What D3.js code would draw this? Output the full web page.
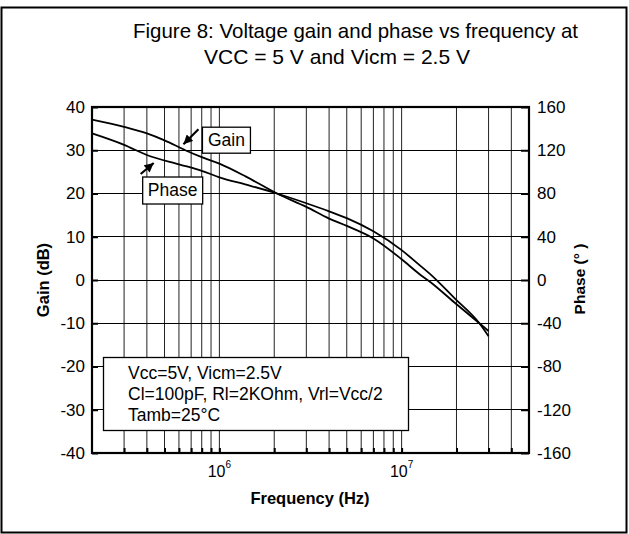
<!DOCTYPE html>
<html>
<head>
<meta charset="utf-8">
<script src="https://cdn.jsdelivr.net/npm/d3@7"></script>
<style>
  html, body { margin: 0; padding: 0; background: #fff; }
  svg { display: block; font-family: Arial, "Liberation Sans", Helvetica, sans-serif; }
</style>
</head>
<body>
<svg id="chart" width="629" height="534"></svg>
<script>
// ---- Data ----
const titleLines = ["Figure 8: Voltage gain and phase vs frequency at", "VCC = 5 V and Vicm = 2.5 V"];
const gainFreq = [2e5, 3e5, 4e5, 5e5, 6.5e5, 8e5, 1e6, 1.4e6, 2.07e6, 3e6, 4e6, 5e6, 7e6, 1e7, 1.25e7, 1.43e7, 1.95e7, 2.67e7, 3e7];
const gainDb   = [37.1, 35.4, 33.9, 32.3, 30.0, 28.4, 26.9, 23.9, 20.0, 16.9, 14.2, 12.5, 9.6, 4.8, 1.4, -0.4, -5.2, -10.0, -11.8];
const phaseFreq = [2e5, 3e5, 4e5, 6e5, 8e5, 1e6, 1.42e6, 2.07e6, 3e6, 4e6, 5e6, 7e6, 1e7, 1.25e7, 1.43e7, 1.95e7, 2.67e7, 3e7];
const phaseDeg  = [135.6, 125, 115.6, 107, 101, 95, 88, 80, 71, 63.5, 57.2, 45, 27.6, 14, 5.6, -16.8, -40, -52];
const gainTicks  = [-40, -30, -20, -10, 0, 10, 20, 30, 40];
const phaseTicks = [-160, -120, -80, -40, 0, 40, 80, 120, 160];
const decadeTicks = [1e6, 1e7];
const boxLines = ["Vcc=5V, Vicm=2.5V", "Cl=100pF, Rl=2KOhm, Vrl=Vcc/2", "Tamb=25°C"];
const gainLabel = {text: "Gain", f: 6.35e5, v: 31.4};
const phaseLabel = {text: "Phase", f: 4.36e5, v: 27.05};

// ---- Layout ----
const L = 92, R = 529, T = 107, B = 453;
const svg = d3.select("#chart");

const x = d3.scaleLog().domain([2e5, 5e7]).range([L, R]);
const y = d3.scaleLinear().domain([-40, 40]).range([B, T]);
const yP = d3.scaleLinear().domain([-160, 160]).range([B, T]);

// outer frame
svg.append("rect").attr("x", 1.5).attr("y", 7.5).attr("width", 625).attr("height", 525)
  .attr("fill", "none").attr("stroke", "#000").attr("stroke-width", 2);

// title
const titlePos = [{x: 133, w: 445}, {x: 204, w: 266}];
svg.selectAll("text.title").data(titleLines).enter().append("text")
  .attr("class", "title")
  .attr("x", (d, i) => titlePos[i].x).attr("y", (d, i) => 38 + i * 26)
  .attr("font-size", 21)
  .attr("textLength", (d, i) => titlePos[i].w).attr("lengthAdjust", "spacingAndGlyphs")
  .text(d => d);

// vertical grid
const minor = x.ticks().filter(v => v > 2.0001e5 && v < 4.9999e7);
svg.append("g").selectAll("line").data(minor).enter().append("line")
  .attr("x1", d => x(d)).attr("x2", d => x(d))
  .attr("y1", T).attr("y2", B)
  .attr("stroke", "#222").attr("stroke-width", 1);

// horizontal grid
svg.append("g").selectAll("line").data(gainTicks.slice(1, -1)).enter().append("line")
  .attr("x1", L).attr("x2", R)
  .attr("y1", d => y(d)).attr("y2", d => y(d))
  .attr("stroke", "#000").attr("stroke-width", 1)
  .attr("shape-rendering", "crispEdges");

// left axis
const gl = svg.append("g").attr("transform", `translate(${L},0)`)
  .call(d3.axisLeft(y).tickValues(gainTicks).tickFormat(d => String(d))
    .tickSizeInner(-6).tickSizeOuter(0).tickPadding(7));
// right axis
const gr = svg.append("g").attr("transform", `translate(${R},0)`)
  .call(d3.axisRight(yP).tickValues(phaseTicks).tickFormat(d => String(d))
    .tickSizeInner(-8).tickSizeOuter(0).tickPadding(8));
// bottom ticks
const gb = svg.append("g").attr("transform", `translate(0,${B})`)
  .call(d3.axisBottom(x).tickValues(minor).tickFormat("").tickSizeInner(-5).tickSizeOuter(0));
[gl, gr, gb].forEach(g => {
  g.select(".domain").remove();
  g.selectAll(".tick line").attr("stroke", "#000").attr("stroke-width", 2);
  g.selectAll("text").attr("font-size", 17).attr("fill", "#000")
    .attr("font-family", "Arial, 'Liberation Sans', sans-serif");
});

// decade labels
const dl = svg.append("g").selectAll("text").data(decadeTicks).enter().append("text")
  .attr("x", d => x(d)).attr("y", 477).attr("text-anchor", "middle").attr("font-size", 16);
dl.append("tspan").text("10");
dl.append("tspan").attr("font-size", 10).attr("dy", -9).text(d => Math.round(Math.log10(d)));

// plot border
svg.append("rect").attr("x", L).attr("y", T).attr("width", R - L).attr("height", B - T)
  .attr("fill", "none").attr("stroke", "#000").attr("stroke-width", 2.2);

// curves
const lineG = d3.line().x(d => x(d[0])).y(d => y(d[1])).curve(d3.curveMonotoneX);
const lineP = d3.line().x(d => x(d[0])).y(d => yP(d[1])).curve(d3.curveMonotoneX);
svg.append("path").datum(gainFreq.map((f, i) => [f, gainDb[i]]))
  .attr("d", lineG).attr("fill", "none").attr("stroke", "#000").attr("stroke-width", 1.8);
svg.append("path").datum(phaseFreq.map((f, i) => [f, phaseDeg[i]]))
  .attr("d", lineP).attr("fill", "none").attr("stroke", "#000").attr("stroke-width", 1.8);

// arrow marker
svg.append("defs").append("marker").attr("id", "ah")
  .attr("viewBox", "0 0 10 10").attr("refX", 10).attr("refY", 5)
  .attr("markerWidth", 4.4).attr("markerHeight", 4.2).attr("markerUnits", "strokeWidth")
  .attr("orient", "auto")
  .append("path").attr("d", "M0,0 L10,5 L0,10 z").attr("fill", "#000");

// Gain label + arrow
{
  const tx = x(gainLabel.f), ty = y(gainLabel.v);
  svg.append("line").attr("x1", tx + 15).attr("y1", ty - 15).attr("x2", tx).attr("y2", ty)
    .attr("stroke", "#000").attr("stroke-width", 2.2).attr("marker-end", "url(#ah)");
  svg.append("rect").attr("x", tx + 19).attr("y", ty - 17).attr("width", 48).attr("height", 26)
    .attr("fill", "#fff").attr("stroke", "#000").attr("stroke-width", 1.3);
  svg.append("text").attr("x", tx + 43).attr("y", ty + 2).attr("text-anchor", "middle")
    .attr("font-size", 17.5).text(gainLabel.text);
}
// Phase label + arrow
{
  const tx = x(phaseLabel.f), ty = y(phaseLabel.v);
  svg.append("line").attr("x1", tx - 13).attr("y1", ty + 11).attr("x2", tx).attr("y2", ty)
    .attr("stroke", "#000").attr("stroke-width", 2.2).attr("marker-end", "url(#ah)");
  svg.append("rect").attr("x", tx - 11).attr("y", ty + 14).attr("width", 60).attr("height", 27)
    .attr("fill", "#fff").attr("stroke", "#000").attr("stroke-width", 1.3);
  svg.append("text").attr("x", tx + 19).attr("y", ty + 33).attr("text-anchor", "middle")
    .attr("font-size", 17.5).text(phaseLabel.text);
}

// conditions box
svg.append("rect").attr("x", 103.5).attr("y", 357.5).attr("width", 305).attr("height", 73)
  .attr("fill", "#fff").attr("stroke", "#000").attr("stroke-width", 1.3);
svg.selectAll("text.cond").data(boxLines).enter().append("text")
  .attr("class", "cond").attr("x", 128).attr("y", (d, i) => 379 + i * 21)
  .attr("font-size", 17.5).text(d => d);

// axis titles
svg.append("text").attr("x", 310).attr("y", 504).attr("text-anchor", "middle")
  .attr("font-size", 16.5).attr("font-weight", "bold").text("Frequency (Hz)");
svg.append("text").attr("transform", "translate(49,280) rotate(-90)").attr("text-anchor", "middle")
  .attr("font-size", 16.5).attr("font-weight", "bold").text("Gain (dB)");
svg.append("text").attr("transform", "translate(585,279) rotate(-90)").attr("text-anchor", "middle")
  .attr("font-size", 15.5).attr("font-weight", "bold").text("Phase (° )");
</script>
</body>
</html>
